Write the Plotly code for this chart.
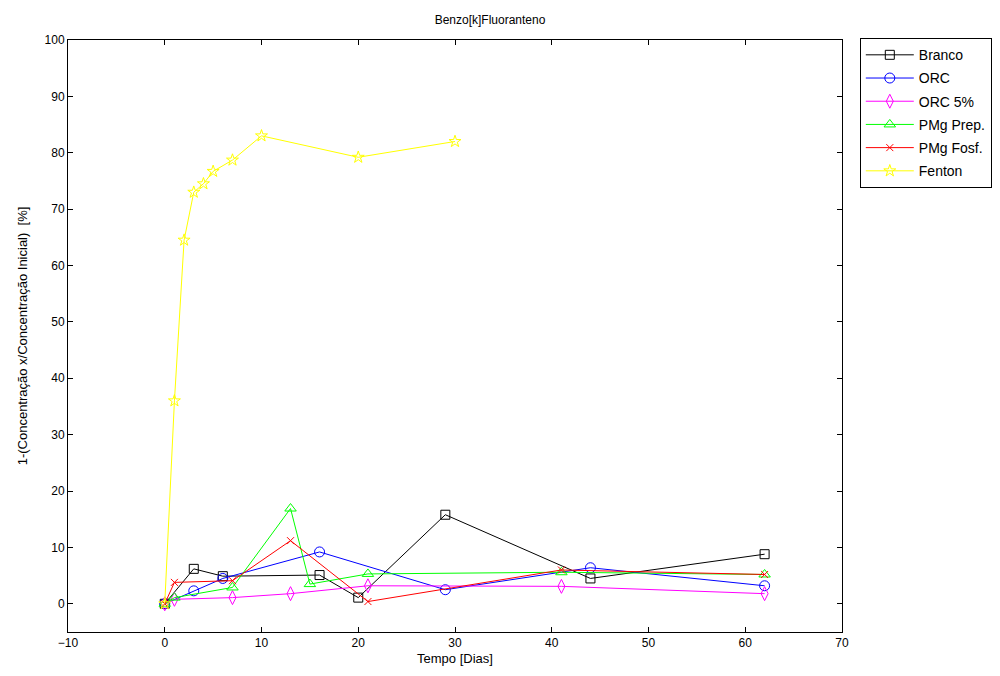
import plotly.graph_objects as go

# Days and removal percentage for each treatment
branco_x = [0, 3, 6, 16, 20, 29, 44, 62]
branco_y = [0, 6.2, 4.9, 5.1, 1.1, 15.8, 4.5, 8.8]

orc_x = [0, 3, 6, 16, 29, 44, 62]
orc_y = [0, 2.3, 4.5, 9.2, 2.5, 6.4, 3.2]

orc5_x = [0, 1, 7, 13, 21, 41, 62]
orc5_y = [0, 0.8, 1.1, 1.8, 3.2, 3.1, 1.8]

pmg_prep_x = [0, 1, 7, 13, 15, 21, 41, 62]
pmg_prep_y = [0, 1.1, 2.9, 16.9, 3.5, 5.3, 5.6, 5.2]

pmg_fosf_x = [0, 1, 7, 13, 21, 41, 62]
pmg_fosf_y = [0, 3.8, 4.1, 11.2, 0.4, 6.0, 5.2]

fenton_x = [0, 1, 2, 3, 4, 5, 7, 10, 20, 30]
fenton_y = [0, 36, 64.5, 73, 74.5, 76.7, 78.7, 83, 79.2, 82]

x_ticks = [-10, 0, 10, 20, 30, 40, 50, 60, 70]
y_ticks = [0, 10, 20, 30, 40, 50, 60, 70, 80, 90, 100]

series = [
    ("Branco", branco_x, branco_y, "#000000", "square-open", 9),
    ("ORC", orc_x, orc_y, "#0000ff", "circle-open", 10),
    ("ORC 5%", orc5_x, orc5_y, "#ff00ff", "diamond-tall-open", 10),
    ("PMg Prep.", pmg_prep_x, pmg_prep_y, "#00ff00", "triangle-up-open", 10),
    ("PMg Fosf.", pmg_fosf_x, pmg_fosf_y, "#ff0000", "x-thin-open", 7),
    ("Fenton", fenton_x, fenton_y, "#ffff00", "star-open", 9),
]

fig = go.Figure()
for name, xs, ys, color, symbol, size in series:
    fig.add_trace(go.Scatter(
        x=xs, y=ys, name=name, mode="lines+markers", legendgroup=name,
        line=dict(color=color, width=1),
        marker=dict(symbol=symbol, size=size, color=color,
                    line=dict(color=color, width=1)),
    ))

axis_common = dict(
    showgrid=False, zeroline=False, showline=True, linecolor="#000000",
    linewidth=1, mirror="ticks", ticks="inside", ticklen=5,
    tickcolor="#000000", tickfont=dict(family="Liberation Sans, Arial", size=12, color="#000000"),
)

fig.update_layout(
    width=1000, height=676,
    margin=dict(l=68, r=158, t=40, b=44, autoexpand=False),
    paper_bgcolor="#ffffff", plot_bgcolor="#ffffff",
    font=dict(family="Liberation Sans, Arial", size=12, color="#000000"),
    title=dict(text="Benzo[k]Fluoranteno", x=0.49, xanchor="center",
               y=0.97, yanchor="middle", font=dict(size=12)),
    xaxis=dict(range=[-10, 70], tickvals=x_ticks,
               title=dict(text="Tempo [Dias]", standoff=4, font=dict(size=13)),
               **axis_common),
    yaxis=dict(range=[-5, 100], tickvals=y_ticks,
               title=dict(text="1-(Concentração x/Concentração Inicial)  [%]",
                          standoff=14, font=dict(size=13)),
               **axis_common),
    legend=dict(x=1.023, y=1.003, xanchor="left", yanchor="top",
                bordercolor="#000000", borderwidth=1, bgcolor="#ffffff",
                font=dict(size=14), tracegroupgap=2, itemwidth=48),
    showlegend=True,
)

fig.write_html("out.html")
